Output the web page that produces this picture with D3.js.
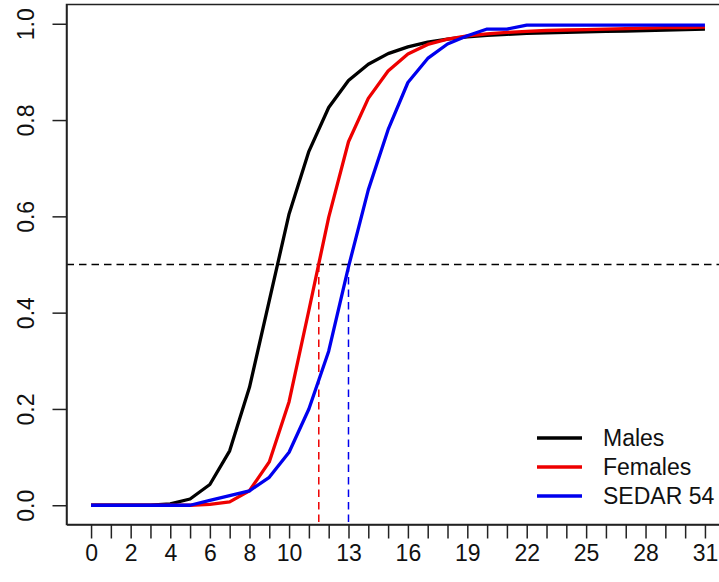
<!DOCTYPE html>
<html>
<head>
<meta charset="utf-8">
<script src="https://cdn.jsdelivr.net/npm/d3@7/dist/d3.min.js"></script>
<style>
  html, body { margin: 0; padding: 0; background: #fff; }
  svg { display: block; font-family: "Liberation Sans", Arial, sans-serif; }
</style>
</head>
<body>
<svg id="chart" width="719" height="582"></svg>
<script>
// Age classes (years)
const ages = [0,1,2,3,4,5,6,7,8,9,10,11,12,13,14,15,16,17,18,19,20,21,22,23,24,25,26,27,28,29,30,31];
// Proportion mature at age
const males = [0,0,0,0,0.003,0.013,0.043,0.113,0.245,0.425,0.605,0.735,0.826,0.882,0.916,0.938,
               0.952,0.962,0.968,0.973,0.976,0.978,0.980,0.981,0.982,0.983,0.984,0.985,0.986,0.987,0.988,0.989];
const females = [0,0,0,0,0,0,0.002,0.007,0.030,0.090,0.215,0.405,0.598,0.755,0.845,0.902,
                 0.937,0.957,0.968,0.975,0.979,0.982,0.984,0.986,0.987,0.988,0.989,0.990,0.991,0.992,0.992,0.993];
const sedar54 = [0,0,0,0,0,0,0.010,0.020,0.030,0.058,0.110,0.200,0.320,0.495,0.655,0.780,
                 0.878,0.928,0.958,0.975,0.989,0.989,0.997,0.997,0.997,0.997,0.997,0.997,0.997,0.997,0.997,0.997];
// Age at 50% maturity
const a50Females = 11.5;
const a50Sedar = 13.0;
// Axis labels
const xLabels = [0,2,4,6,8,10,13,16,19,22,25,28,31];
const yTicks = [0,0.2,0.4,0.6,0.8,1.0];
const seriesNames = ["Males","Females","SEDAR 54"];
const seriesColors = ["#000000","#ee0000","#0000ee"];

const FONT = 23;
const svg = d3.select("#chart");
const x = d3.scaleLinear().domain([-1.24, 32.24]).range([66.5, 729.5]);
const y = d3.scaleLinear().domain([-0.04, 1.04]).range([524.5, 4.5]);

// clip for the plotting region
svg.append("defs").append("clipPath").attr("id","plotclip")
  .append("rect").attr("x", x.range()[0]).attr("y", y.range()[1])
  .attr("width", x.range()[1]-x.range()[0]).attr("height", y.range()[0]-y.range()[1]);

const plot = svg.append("g").attr("clip-path","url(#plotclip)");

// reference line at 50% maturity
plot.append("line")
  .attr("x1", x.range()[0]).attr("x2", x.range()[1])
  .attr("y1", y(0.5)).attr("y2", y(0.5))
  .attr("stroke","#000").attr("stroke-width",1.5).attr("stroke-dasharray","7.5,5");

// vertical drops at A50
[[a50Females, seriesColors[1]],[a50Sedar, seriesColors[2]]].forEach(([a, c]) => {
  plot.append("line")
    .attr("x1", x(a)).attr("x2", x(a))
    .attr("y1", y(0.5)).attr("y2", y.range()[0])
    .attr("stroke", c).attr("stroke-width",1.5).attr("stroke-dasharray","7.5,5");
});

// maturity curves
const line = d3.line().x((d,i) => x(ages[i])).y(d => y(d));
[males, females, sedar54].forEach((s, k) => {
  plot.append("path").datum(s)
    .attr("d", line)
    .attr("fill","none")
    .attr("stroke", seriesColors[k])
    .attr("stroke-width", 3.3)
    .attr("stroke-linejoin","round");
});

// plot box
svg.append("rect")
  .attr("x", x.range()[0]).attr("y", y.range()[1])
  .attr("width", x.range()[1]-x.range()[0]).attr("height", y.range()[0]-y.range()[1])
  .attr("fill","none").attr("stroke","#222").attr("stroke-width",1.5);

// x axis
const xAxis = d3.axisBottom(x)
  .tickValues(ages)
  .tickSize(14).tickSizeOuter(0).tickPadding(6)
  .tickFormat(d => xLabels.includes(d) ? String(d) : "");
const gx = svg.append("g").attr("transform", `translate(0,${y.range()[0]})`).call(xAxis);
gx.select(".domain").attr("stroke","#222").attr("stroke-width",1.5);
gx.selectAll(".tick line").attr("stroke","#222").attr("stroke-width",1.5);
gx.selectAll(".tick text").attr("font-size", FONT).attr("fill","#111")
  .attr("font-family", "'Liberation Sans', Arial, sans-serif");

// y axis
const yAxis = d3.axisLeft(y)
  .tickValues(yTicks)
  .tickSize(14).tickSizeOuter(0)
  .tickFormat(d3.format(".1f"));
const gy = svg.append("g").attr("transform", `translate(${x.range()[0]},0)`).call(yAxis);
gy.select(".domain").attr("stroke","#222").attr("stroke-width",1.5);
gy.selectAll(".tick line").attr("stroke","#222").attr("stroke-width",1.5);
gy.selectAll(".tick text")
  .attr("x", null).attr("dy", null)
  .attr("text-anchor","middle")
  .attr("transform","translate(-33,0) rotate(-90)")
  .attr("font-size", FONT).attr("fill","#111")
  .attr("font-family", "'Liberation Sans', Arial, sans-serif");

// legend
const legend = svg.append("g");
seriesNames.forEach((name, i) => {
  const ly = 438 + i * 29;
  legend.append("line")
    .attr("x1", 537).attr("x2", 582).attr("y1", ly).attr("y2", ly)
    .attr("stroke", seriesColors[i]).attr("stroke-width", 3.3);
  legend.append("text")
    .attr("x", 603).attr("y", ly).attr("dy","0.36em")
    .attr("font-size", FONT).attr("fill","#111")
    .text(name);
});
</script>
</body>
</html>
